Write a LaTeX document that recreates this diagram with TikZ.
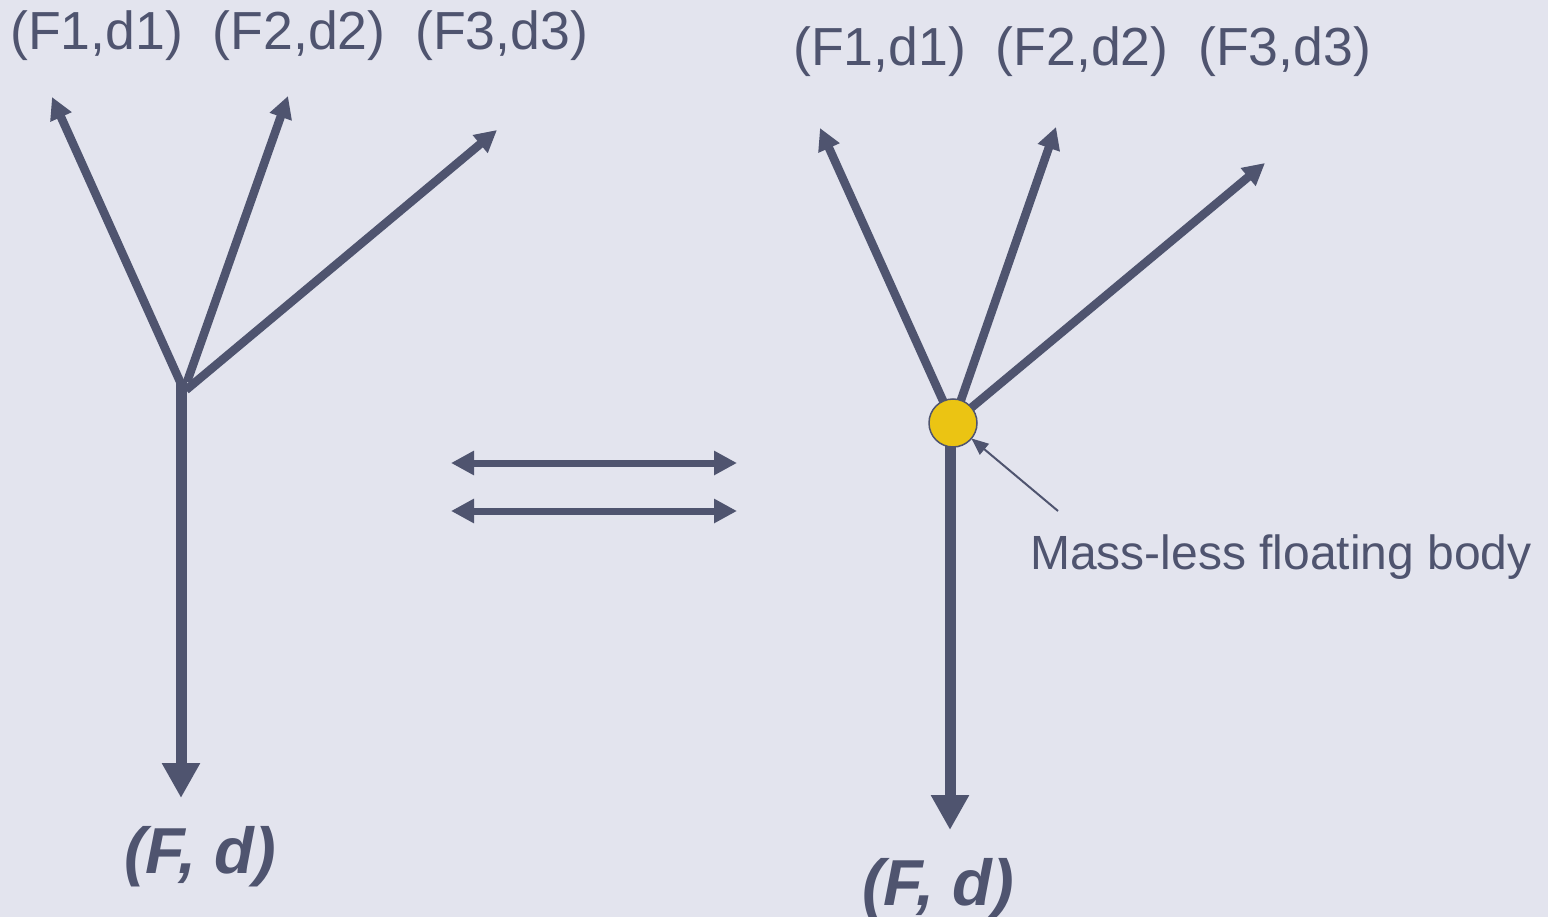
\documentclass[tikz,border=0pt]{standalone}
\usepackage{fontspec}
\setmainfont{Liberation Sans}
\usetikzlibrary{arrows.meta}
\definecolor{bgc}{HTML}{E3E4EE}
\definecolor{inkc}{HTML}{4F546F}
\definecolor{dotc}{HTML}{EBC413}
\begin{document}
\begin{tikzpicture}[x=1pt,y=-1pt,
  branch/.style={draw=inkc,line width=8.5pt,-{Triangle[length=22pt,width=22pt]}},
  stem/.style={draw=inkc,line width=11pt,-{Triangle[length=35pt,width=36pt]}},
  dbl/.style={draw=inkc,line width=7pt,{Triangle[length=23pt,width=23pt]}-{Triangle[length=23pt,width=23pt]}},
  thin/.style={draw=inkc,line width=2pt,-{Triangle[length=17pt,width=14pt]}},
  lbl/.style={inner sep=0pt,anchor=base west,text=inkc,font=\fontsize{53.6}{60}\selectfont},
  big/.style={inner sep=0pt,anchor=base west,text=inkc,font=\fontsize{65}{72}\selectfont\bfseries\itshape},
  note/.style={inner sep=0pt,anchor=base west,text=inkc,font=\fontsize{48}{56}\selectfont},
  body/.style={circle,fill=dotc,draw=inkc,line width=1.5pt,minimum size=48pt,inner sep=0pt,outer sep=0pt}
]
\fill[bgc] (0,0) rectangle (1548,917);
\useasboundingbox (0,0) rectangle (1548,917);

% ---------- left diagram ----------
\coordinate (LJ1) at (182,386);
\coordinate (LJ2) at (187,382);
\coordinate (LJ3) at (186,390);
\coordinate (LS) at (181,380);
\coordinate (LT1) at (52,97);
\coordinate (LT2) at (288,96);
\coordinate (LT3) at (497,130);
\coordinate (LB) at (181,798);
\draw[branch] (LJ1) -- (LT1);
\draw[branch] (LJ2) -- (LT2);
\draw[branch] (LJ3) -- (LT3);
\draw[stem] (LS) -- (LB);
\node[lbl] (ltxt) at (10,50) {(F1,d1)\ \ (F2,d2)\ \ (F3,d3)};
\node[big] (lfd) at (124,873) {(F, d)};

% ---------- equivalence arrows ----------
\coordinate (E1a) at (451,463);
\coordinate (E1b) at (737,463);
\coordinate (E2a) at (451,511);
\coordinate (E2b) at (737,511);
\draw[dbl] (E1a) -- (E1b);
\draw[dbl] (E2a) -- (E2b);

% ---------- right diagram ----------
\coordinate (RC) at (953,423);
\coordinate (RS) at (950,423);
\coordinate (RT1) at (820,128);
\coordinate (RT2) at (1056,127);
\coordinate (RT3) at (1265,163);
\coordinate (RB) at (950,830);
\draw[branch] (RC) -- (RT1);
\draw[branch] (RC) -- (RT2);
\draw[branch] (RC) -- (RT3);
\draw[stem] (RS) -- (RB);
\node[body] (C) at (RC) {};
\coordinate (NP) at (1058,511);
\draw[thin] (NP) -- (C);
\node[lbl] (rtxt) at (793,66) {(F1,d1)\ \ (F2,d2)\ \ (F3,d3)};
\node[note] (ntxt) at (1030,569) {Mass-less floating body};
\node[big] (rfd) at (862,905) {(F, d)};
\end{tikzpicture}
\end{document}
